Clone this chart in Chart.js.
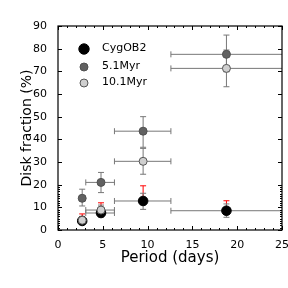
<!DOCTYPE html>
<html>
<head>
<meta charset="utf-8">
<script src="https://cdn.jsdelivr.net/npm/chart.js@4"></script>
<style>
  html, body { margin: 0; padding: 0; background: #fff; }
  #wrap { width: 288px; height: 288px; }
</style>
</head>
<body>
<div id="wrap"><canvas id="c"></canvas></div>
<script>
// bin centres and edges (days)
const periods = [2.7, 4.8, 9.5, 18.8];
const periodLo = [2.4, 3.1, 6.3, 12.6];
const periodHi = [3.0, 6.3, 12.6, 26];

// disk fractions (%)
const cygOB2 = [4.0, 7.5, 12.8, 8.5];
const cygErrLo = [3.0, 5.8, 9.1, 5.6];
const cygErrHi = [5.0, 9.5, 16.2, 11.5];
const cygUpper = [7.1, 12.0, 19.5, 12.9];

const myr5 = [14.0, 21.0, 43.6, 77.5];
const myr5Lo = [10.6, 16.5, 36.5, 69.8];
const myr5Hi = [18.0, 25.4, 50.0, 86.0];

const myr10 = [4.3, 8.8, 30.3, 71.3];
const myr10Lo = [3.0, 7.0, 24.6, 63.2];
const myr10Hi = [6.0, 11.0, 36.0, 79.4];

const xTicks = [0, 5, 10, 15, 20, 25];
const yTicks = [0, 10, 20, 30, 40, 50, 60, 70, 80, 90];

const FONT = 'DejaVu Sans';
const BAR = '#777';

const pts = (ys) => ys.map((y, i) => ({ x: periods[i], y: y }));

const series = [
    { label: 'CygOB2', data: pts(cygOB2), lo: cygErrLo, hi: cygErrHi, up: cygUpper,
      bg: '#000', border: '#000', r: 4.8, order: 3 },
    { label: '5.1Myr', data: pts(myr5), lo: myr5Lo, hi: myr5Hi,
      bg: '#616161', border: '#505050', r: 4, order: 2 },
    { label: '10.1Myr', data: pts(myr10), lo: myr10Lo, hi: myr10Hi,
      bg: '#cfcfcf', border: '#555', r: 4, order: 1 }
];

// error bars, drawn under the markers
const errorBars = {
    id: 'errorBars',
    beforeDatasetsDraw(chart) {
        const { ctx, chartArea, scales: { x, y } } = chart;
        ctx.save();
        ctx.beginPath();
        ctx.rect(chartArea.left, chartArea.top, chartArea.width, chartArea.height);
        ctx.clip();
        ctx.lineWidth = 1;
        const cap = 3;
        series.forEach(s => {
            s.data.forEach((p, i) => {
                const px = x.getPixelForValue(p.x);
                const py = y.getPixelForValue(p.y);
                const xl = x.getPixelForValue(periodLo[i]);
                const xr = x.getPixelForValue(periodHi[i]);
                const yl = y.getPixelForValue(s.lo[i]);
                const yh = y.getPixelForValue(s.hi[i]);
                if (s.up) {
                    const yu = y.getPixelForValue(s.up[i]);
                    ctx.strokeStyle = '#ff0000';
                    ctx.beginPath();
                    ctx.moveTo(px, py); ctx.lineTo(px, yu);
                    ctx.moveTo(px - cap, yu); ctx.lineTo(px + cap, yu);
                    ctx.stroke();
                }
                ctx.strokeStyle = BAR;
                ctx.beginPath();
                ctx.moveTo(xl, py); ctx.lineTo(xr, py);
                ctx.moveTo(xl, py - cap); ctx.lineTo(xl, py + cap);
                ctx.moveTo(xr, py - cap); ctx.lineTo(xr, py + cap);
                ctx.moveTo(px, yl); ctx.lineTo(px, yh);
                ctx.moveTo(px - cap, yl); ctx.lineTo(px + cap, yl);
                ctx.moveTo(px - cap, yh); ctx.lineTo(px + cap, yh);
                ctx.stroke();
            });
        });
        ctx.restore();
    }
};

// frame, inward ticks and legend
const frame = {
    id: 'frame',
    afterDraw(chart) {
        const { ctx, chartArea: a, scales: { x, y } } = chart;
        ctx.save();
        ctx.strokeStyle = '#000';
        ctx.lineWidth = 1;
        ctx.beginPath();
        for (let v = 0; v <= 25; v++) {
            const px = Math.round(x.getPixelForValue(v)) + 0.5;
            const len = v % 5 === 0 ? 4 : 2;
            ctx.moveTo(px, a.bottom); ctx.lineTo(px, a.bottom - len);
            ctx.moveTo(px, a.top); ctx.lineTo(px, a.top + len);
        }
        yTicks.forEach(v => {
            const py = Math.round(y.getPixelForValue(v)) + 0.5;
            ctx.moveTo(a.left, py); ctx.lineTo(a.left + 4, py);
            ctx.moveTo(a.right, py); ctx.lineTo(a.right - 4, py);
        });
        for (let v = 1; v < 20; v++) {
            const py = Math.round(y.getPixelForValue(v)) + 0.5;
            ctx.moveTo(a.left, py); ctx.lineTo(a.left + 2, py);
            ctx.moveTo(a.right, py); ctx.lineTo(a.right - 2, py);
        }
        ctx.stroke();
        ctx.lineWidth = 1.2;
        ctx.strokeRect(a.left, a.top, a.width, a.height);

        // legend
        ctx.font = '11px "' + FONT + '"';
        ctx.textBaseline = 'middle';
        ctx.textAlign = 'left';
        const ly = [49, 67, 83];
        series.forEach((s, i) => {
            ctx.beginPath();
            ctx.arc(84, ly[i], s.r + (i === 0 ? 0.4 : 0), 0, Math.PI * 2);
            ctx.fillStyle = s.bg;
            ctx.fill();
            ctx.lineWidth = 1;
            ctx.strokeStyle = s.border;
            ctx.stroke();
            ctx.fillStyle = '#000';
            ctx.fillText(s.label, 102, ly[i] - 1);
        });
        ctx.restore();
    }
};

new Chart(document.getElementById('c'), {
    type: 'scatter',
    data: {
        datasets: series.map(s => ({
            label: s.label,
            data: s.data,
            backgroundColor: s.bg,
            borderColor: s.border,
            borderWidth: 1,
            pointRadius: s.r,
            order: s.order
        }))
    },
    options: {
        responsive: true,
        maintainAspectRatio: false,
        animation: false,
        layout: { padding: { left: 0, top: 26, right: 6, bottom: 0 } },
        plugins: { legend: { display: false }, tooltip: { enabled: false } },
        scales: {
            x: {
                type: 'linear', min: 0, max: 25,
                afterFit: s => { s.height = 58; s.paddingLeft = 0; s.paddingRight = 0; },
                afterBuildTicks: s => { s.ticks = xTicks.map(v => ({ value: v })); },
                grid: { display: false },
                border: { display: false },
                ticks: { color: '#000', padding: 1, maxRotation: 0, font: { family: FONT, size: 11 } },
                title: { display: true, text: 'Period (days)', color: '#000',
                         font: { family: FONT, size: 15 }, padding: { top: 0, bottom: 21 } }
            },
            y: {
                type: 'linear', min: 0, max: 90,
                afterFit: s => { s.width = 58; s.paddingTop = 0; s.paddingBottom = 0; },
                afterBuildTicks: s => { s.ticks = yTicks.map(v => ({ value: v })); },
                grid: { display: false },
                border: { display: false },
                ticks: { color: '#000', padding: 3, font: { family: FONT, size: 11 } },
                title: { display: true, text: 'Disk fraction (%)', color: '#000',
                         font: { family: FONT, size: 14 }, padding: { top: 19, bottom: 0 } }
            }
        }
    },
    plugins: [errorBars, frame]
});
</script>
</body>
</html>
